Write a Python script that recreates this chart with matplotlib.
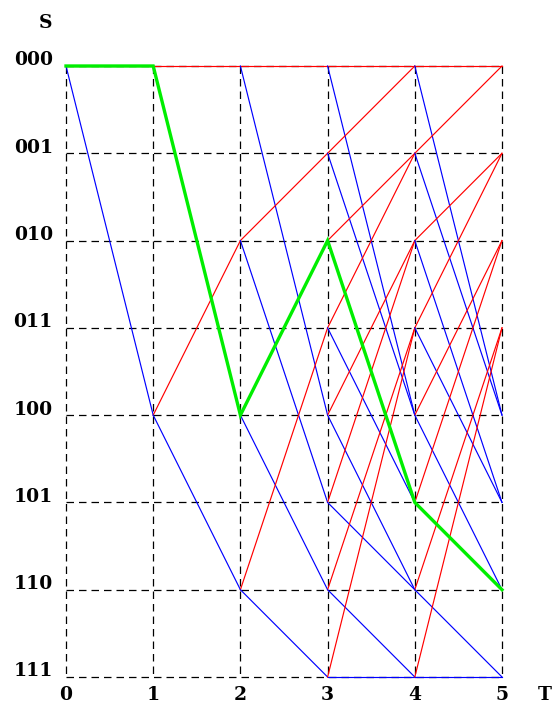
import matplotlib

matplotlib.use("Agg")
import matplotlib.pyplot as plt

# trellis of an 8-state shift register, next state = (input, b1, b2)
states = ["000", "001", "010", "011", "100", "101", "110", "111"]
times = [0, 1, 2, 3, 4, 5]
input_colors = {0: "#ff0000", 1: "#0000ff"}
path = ["000", "000", "100", "010", "101", "110"]


def next_state(s, bit):
    return str(bit) + s[:2]


fig = plt.figure(figsize=(5.54, 7.04), dpi=100)
ax = fig.add_axes([66 / 554, 27 / 704, 436 / 554, 611 / 704])
ax.set_xlim(times[0], times[-1])
ax.set_ylim(len(states) - 1, 0)
ax.axis("off")

ypos = {s: i for i, s in enumerate(states)}

# dashed grid
for i in range(len(states)):
    ax.plot([times[0], times[-1]], [i, i], color="black", lw=0.9,
            ls=(0, (6, 4)), zorder=1, clip_on=False)
for t in times:
    ax.plot([t, t], [0, len(states) - 1], color="black", lw=0.9,
            ls=(0, (6, 4)), zorder=1, clip_on=False)

# branches
active = {"000"}
for t in times[:-1]:
    reached = set()
    for s in sorted(active):
        for bit in (0, 1):
            ns = next_state(s, bit)
            ax.plot([t, t + 1], [ypos[s], ypos[ns]], color=input_colors[bit],
                    lw=0.85, zorder=2, clip_on=False)
            reached.add(ns)
    active = reached

# highlighted path
ax.plot(times, [ypos[s] for s in path], color="#00ee00", lw=2.4, zorder=3,
        clip_on=False, solid_joinstyle="miter")

font = dict(family="DejaVu Serif", weight="bold", fontsize=13.5)
for s in states:
    ax.annotate(s, (0, ypos[s]), xytext=(-9.5, 4), textcoords="offset points",
                ha="right", va="center", annotation_clip=False, **font)
for t in times:
    ax.annotate(str(t), (t, len(states) - 1), xytext=(0, -13),
                textcoords="offset points", ha="center", va="center",
                annotation_clip=False, **font)
ax.annotate("S", (0, 0), xytext=(-15, 31), textcoords="offset points",
            ha="center", va="center", annotation_clip=False, **font)
ax.annotate("T", (times[-1], len(states) - 1), xytext=(31, -13),
            textcoords="offset points", ha="center", va="center",
            annotation_clip=False, **font)

fig.savefig("out.png", dpi=100)
